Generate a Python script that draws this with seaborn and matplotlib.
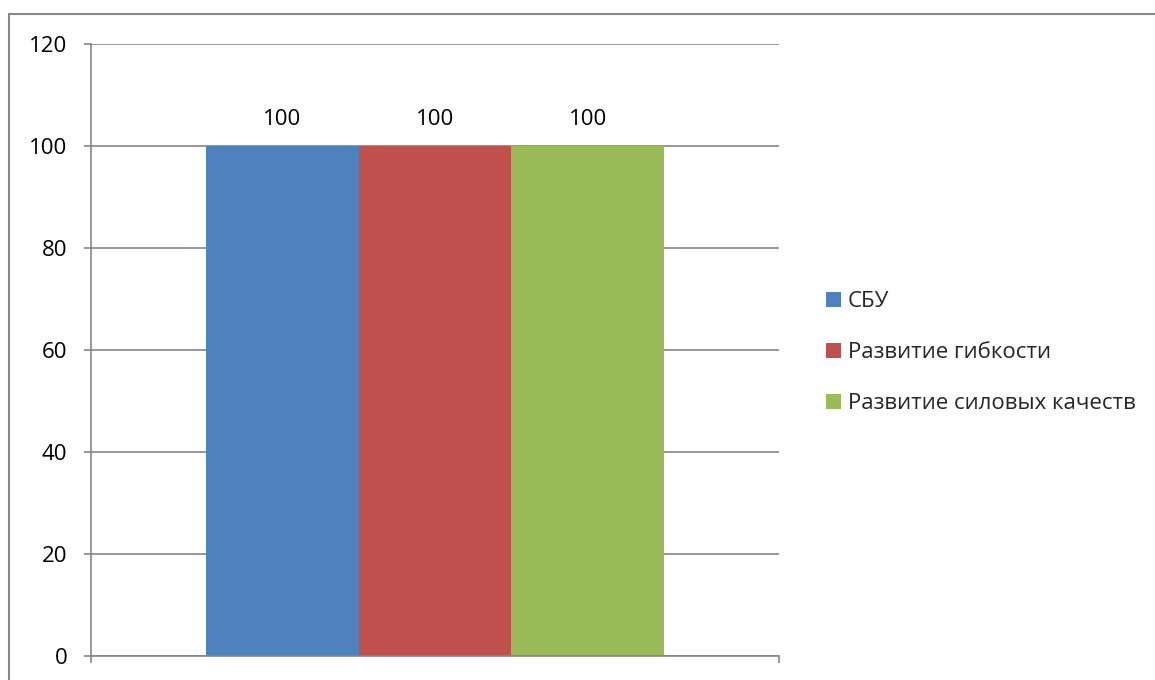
import matplotlib
matplotlib.use("Agg")
import matplotlib.pyplot as plt
import seaborn as sns
import pandas as pd
from matplotlib.patches import Rectangle

categories = [""]
series = ["СБУ", "Развитие гибкости", "Развитие силовых качеств"]
values = [100, 100, 100]
colors = ["#4F81BD", "#C0504D", "#9BBB59"]
yticks = [0, 20, 40, 60, 80, 100, 120]

df = pd.DataFrame({"cat": categories * len(series), "series": series, "value": values})

sns.set_theme(style="white")
plt.rcParams["font.family"] = ["Open Sans", "DejaVu Sans"]

W, H = 1155, 680
fig = plt.figure(figsize=(W / 100, H / 100), dpi=100)
ax = fig.add_axes([91 / W, 1 - 655.5 / H, (779 - 91) / W, (655.5 - 43.5) / H])

sns.barplot(data=df, x="cat", y="value", hue="series", palette=colors,
            width=0.667, gap=0, ax=ax, saturation=1, linewidth=0)

grid = "#868686"
ax.set_ylim(0, 120)
ax.set_xlim(-0.5, 0.5)
ax.set_yticks(yticks)
ax.set_yticklabels([str(t) for t in yticks])
ax.set_xticks([-0.5, 0.5])
ax.set_xticklabels(["", ""])
ax.set_xlabel("")
ax.set_ylabel("")
ax.yaxis.grid(True, color=grid, linewidth=1.2)
ax.set_axisbelow(True)
for s in ["top", "right"]:
    ax.spines[s].set_visible(False)
for s in ["left", "bottom"]:
    ax.spines[s].set_color(grid)
    ax.spines[s].set_linewidth(1.2)
ax.tick_params(axis="y", direction="out", length=5, width=1.2, color=grid,
               pad=12, labelsize=16, labelcolor="black", left=True)
ax.tick_params(axis="x", direction="out", length=5, width=1.2, color=grid, bottom=True)

for cont in ax.containers:
    ax.bar_label(cont, labels=[f"{v:g}" for v in cont.datavalues], padding=11.5,
                 fontsize=16, color="black")

handles, labels = ax.get_legend_handles_labels()
ax.legend(handles, labels, loc="center left", bbox_to_anchor=(817 / W, 1 - 352.5 / H),
          bbox_transform=fig.transFigure, frameon=False, fontsize=16,
          handlelength=0.68, handleheight=0.68, handletextpad=0.3,
          labelspacing=1.35, borderaxespad=0)

fig.patches.append(Rectangle((9 / W, -0.05), 1.1, 1.05 - 14 / H, transform=fig.transFigure,
                             fill=False, edgecolor="#878787", linewidth=1.5))

fig.savefig("out.png", dpi=100)
